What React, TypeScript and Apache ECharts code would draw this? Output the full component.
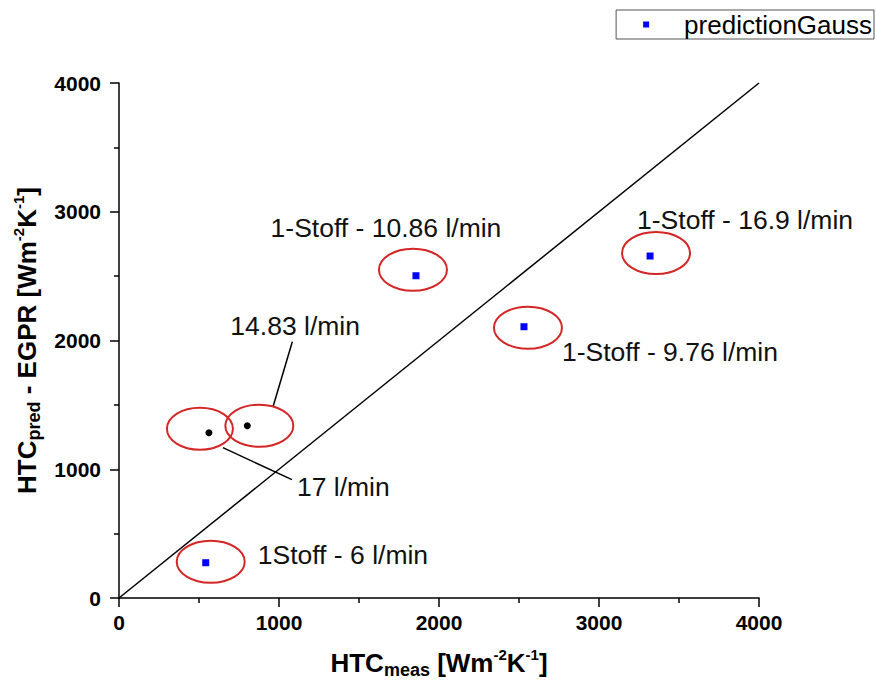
import React, { useEffect, useRef } from "react";
import * as echarts from "echarts";

// ---- data ----
const gaussX = [542, 1856, 2531, 3319];
const gaussY = [274, 2503, 2107, 2656];
const otherX = [562, 802];
const otherY = [1284, 1338];
const diagX = [0, 4000];
const diagY = [0, 4000];
const xTicks = [0, 1000, 2000, 3000, 4000];
const yTicks = [0, 1000, 2000, 3000, 4000];

// annotation labels in the order: gauss points, then other points
const annotLabels = [
  "1Stoff - 6 l/min",
  "1-Stoff - 10.86 l/min",
  "1-Stoff - 9.76 l/min",
  "1-Stoff - 16.9 l/min",
  "17 l/min",
  "14.83 l/min",
];

// ---- pixel styling of annotations (offsets relative to the point) ----
const annotStyle = [
  { ex: 5, ey: -1, rx: 34, ry: 21, lx: 52, ly: -8, align: "left", line: null },
  { ex: -3, ey: -6, rx: 34, ry: 21, lx: -30, ly: -48, align: "center", line: null },
  { ex: 4, ey: 1, rx: 34, ry: 21, lx: 38, ly: 25, align: "left", line: null },
  { ex: 6, ey: -3, rx: 34, ry: 21, lx: -13, ly: -36, align: "left", line: null },
  { ex: -9, ey: -4, rx: 33, ry: 21, lx: 88, ly: 54, align: "left", line: [14, 15, 83, 47] },
  { ex: 12, ey: 0, rx: 34, ry: 21, lx: -17, ly: -100, align: "left", line: [26, -20, 45, -84] },
];

const FONT = '"Liberation Sans", Arial, sans-serif';

export default function App() {
  const ref = useRef<HTMLDivElement>(null);

  useEffect(() => {
    if (!ref.current) return;
    const chart = echarts.init(ref.current, null, { renderer: "svg" });

    const annotX = [...gaussX, ...otherX];
    const annotY = [...gaussY, ...otherY];
    const annotData = annotX.map((x, i) => [x, annotY[i], i]);

    const titleRich = {
      b: { fontSize: 26, fontWeight: "bold", fontFamily: FONT, color: "#000", lineHeight: 32 },
      sub: { fontSize: 18, fontWeight: "bold", fontFamily: FONT, color: "#000", lineHeight: 16, verticalAlign: "bottom" },
      sup: { fontSize: 15, fontWeight: "bold", fontFamily: FONT, color: "#000", lineHeight: 15, verticalAlign: "top" },
    };

    const axisCommon = {
      type: "value",
      min: xTicks[0],
      max: xTicks[xTicks.length - 1],
      interval: 1000,
      splitLine: { show: false },
      axisLine: { show: true, lineStyle: { color: "#000", width: 1.5 } },
      axisTick: { show: true, inside: false, length: 9, lineStyle: { color: "#000", width: 1.5 } },
      minorTick: { show: true, splitNumber: 2, length: 5, lineStyle: { color: "#000", width: 1.5 } },
      minorSplitLine: { show: false },
    };

    const labelCommon = {
      fontSize: 21,
      fontWeight: "bold",
      fontFamily: FONT,
      color: "#000",
      formatter: (v: number) => String(v),
    };

    chart.setOption({
      animation: false,
      backgroundColor: "#fff",
      grid: { left: 119, right: 117, top: 83, bottom: 89 },
      legend: {
        data: ["predictionGauss"],
        right: 2,
        top: 10,
        orient: "horizontal",
        borderColor: "#555",
        borderWidth: 1,
        borderRadius: 0,
        padding: [1, 2, 1, 27],
        itemWidth: 6,
        itemHeight: 6,
        icon: "rect",
        textStyle: { fontSize: 26, fontFamily: FONT, color: "#000", padding: [0, 0, 0, 30], lineHeight: 27 },
      },
      xAxis: {
        ...axisCommon,
        name: "{b|HTC}{sub|meas}{b| [Wm}{sup|-2}{b|K}{sup|-1}{b|]}",
        nameLocation: "middle",
        nameGap: 49,
        nameTextStyle: { rich: titleRich },
        axisLabel: { ...labelCommon, margin: 14 },
      },
      yAxis: {
        ...axisCommon,
        min: yTicks[0],
        max: yTicks[yTicks.length - 1],
        name: "{b|HTC}{sub|pred}{b| - EGPR [Wm}{sup|-2}{b|K}{sup|-1}{b|]}",
        nameLocation: "middle",
        nameGap: 74,
        nameRotate: 90,
        nameTextStyle: { rich: titleRich },
        axisLabel: { ...labelCommon, margin: 18 },
      },
      series: [
        {
          name: "diagonal",
          type: "line",
          data: diagX.map((x, i) => [x, diagY[i]]),
          symbol: "none",
          lineStyle: { color: "#000", width: 1.5 },
          silent: true,
          z: 1,
        },
        {
          name: "annotations",
          type: "custom",
          clip: false,
          silent: true,
          z: 2,
          data: annotData,
          renderItem: (params: any, api: any) => {
            const i = params.dataIndex;
            const s = annotStyle[i];
            const p = api.coord([api.value(0), api.value(1)]);
            const children: any[] = [
              {
                type: "ellipse",
                shape: { cx: p[0] + s.ex, cy: p[1] + s.ey, rx: s.rx, ry: s.ry },
                style: { fill: "none", stroke: "#d42626", lineWidth: 2 },
              },
              {
                type: "text",
                x: p[0] + s.lx,
                y: p[1] + s.ly,
                style: {
                  text: annotLabels[i],
                  fontSize: 26.5,
                  fontFamily: FONT,
                  fill: "#111",
                  align: s.align,
                  verticalAlign: "middle",
                },
              },
            ];
            if (s.line) {
              children.push({
                type: "line",
                shape: { x1: p[0] + s.line[0], y1: p[1] + s.line[1], x2: p[0] + s.line[2], y2: p[1] + s.line[3] },
                style: { stroke: "#000", lineWidth: 1.5 },
              });
            }
            return { type: "group", children };
          },
        },
        {
          name: "predictionGauss",
          type: "scatter",
          data: gaussX.map((x, i) => [x, gaussY[i]]),
          symbol: "rect",
          symbolSize: 7,
          itemStyle: { color: "#0000ff", opacity: 1 },
          z: 3,
        },
        {
          name: "other",
          type: "scatter",
          data: otherX.map((x, i) => [x, otherY[i]]),
          symbol: "circle",
          symbolSize: 7,
          itemStyle: { color: "#000", opacity: 1 },
          z: 3,
        },
      ],
    });

    return () => chart.dispose();
  }, []);

  return (
    <div
      ref={ref}
      style={{ position: "absolute", left: 0, top: 0, width: 876, height: 687, background: "#fff" }}
    />
  );
}
